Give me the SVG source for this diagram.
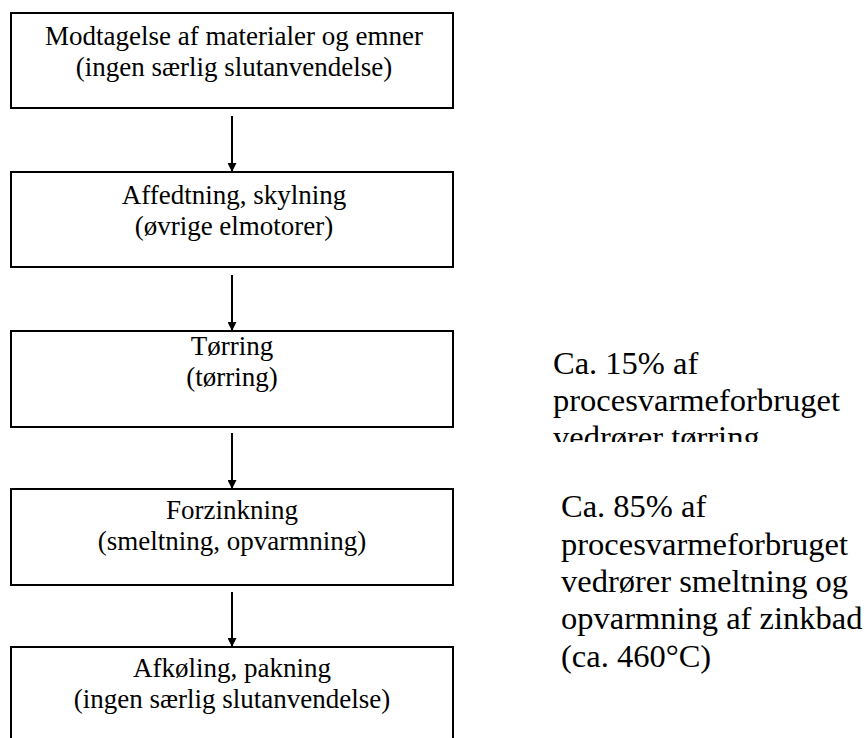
<svg xmlns="http://www.w3.org/2000/svg" width="866" height="738" viewBox="0 0 866 738">
  <style>
    .box { fill: #ffffff; stroke: #000000; stroke-width: 2; }
    .lbl { font-family: "Liberation Serif", "Times New Roman", serif; font-size: 27px; fill: #000000; text-anchor: middle; }
    .note { font-family: "Liberation Serif", "Times New Roman", serif; font-size: 32.5px; fill: #000000; }
    .conn { stroke: #000000; stroke-width: 2; fill: none; marker-end: url(#arrow); }
  </style>
  <defs>
    <marker id="arrow" viewBox="0 0 10 10" refX="10" refY="5" markerWidth="10" markerHeight="9" markerUnits="userSpaceOnUse" orient="auto">
      <path d="M0,0 L10,5 L0,10 z" fill="#000000"/>
    </marker>
    <clipPath id="noteClip">
      <rect x="540" y="330" width="326" height="112"/>
    </clipPath>
  </defs>
  <rect width="866" height="738" fill="#ffffff"/>

  <g id="node-modtagelse">
    <rect class="box" x="11" y="13" width="442" height="95"/>
    <text class="lbl" x="234" y="45">Modtagelse af materialer og emner</text>
    <text class="lbl" x="234" y="76">(ingen særlig slutanvendelse)</text>
  </g>

  <g id="node-affedtning">
    <rect class="box" x="11" y="172" width="442" height="95"/>
    <text class="lbl" x="234" y="204">Affedtning, skylning</text>
    <text class="lbl" x="234" y="235">(øvrige elmotorer)</text>
  </g>

  <g id="node-toerring">
    <rect class="box" x="11" y="331" width="442" height="96"/>
    <text class="lbl" x="232" y="355">Tørring</text>
    <text class="lbl" x="232" y="386">(tørring)</text>
  </g>

  <g id="node-forzinkning">
    <rect class="box" x="11" y="489" width="442" height="96"/>
    <text class="lbl" x="232" y="519">Forzinkning</text>
    <text class="lbl" x="232" y="550">(smeltning, opvarmning)</text>
  </g>

  <g id="node-afkoeling">
    <rect class="box" x="11" y="647" width="442" height="100"/>
    <text class="lbl" x="232" y="677">Afkøling, pakning</text>
    <text class="lbl" x="232" y="708">(ingen særlig slutanvendelse)</text>
  </g>

  <g id="connectors">
    <line class="conn" x1="232" y1="116" x2="232" y2="172"/>
    <line class="conn" x1="232" y1="275" x2="232" y2="331"/>
    <line class="conn" x1="232" y1="433" x2="232" y2="489"/>
    <line class="conn" x1="232" y1="592" x2="232" y2="647"/>
  </g>

  <g id="note-toerring" clip-path="url(#noteClip)">
    <text class="note" x="553" y="374">Ca. 15% af</text>
    <text class="note" x="553" y="411">procesvarmeforbruget</text>
    <text class="note" x="553" y="448">vedrører tørring</text>
  </g>

  <g id="note-forzinkning">
    <text class="note" x="561" y="517">Ca. 85% af</text>
    <text class="note" x="561" y="555">procesvarmeforbruget</text>
    <text class="note" x="561" y="592">vedrører smeltning og</text>
    <text class="note" x="561" y="629">opvarmning af zinkbad</text>
    <text class="note" x="561" y="667">(ca. 460°C)</text>
  </g>
</svg>
